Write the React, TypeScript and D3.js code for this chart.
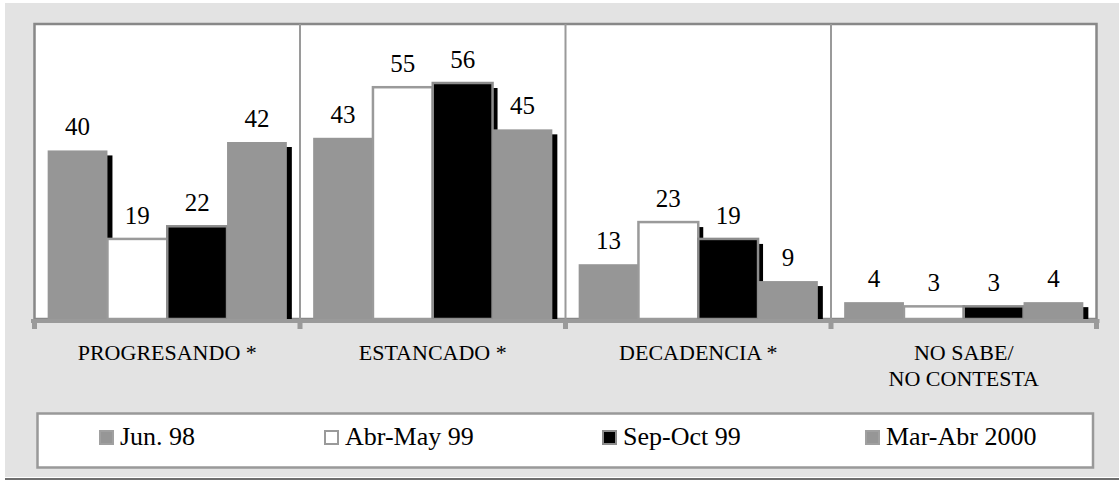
import React from 'react';
import * as d3 from 'd3';

const categories = ['PROGRESANDO *', 'ESTANCADO *', 'DECADENCIA *', 'NO SABE/\nNO CONTESTA'];
const seriesNames = ['Jun. 98', 'Abr-May 99', 'Sep-Oct 99', 'Mar-Abr 2000'];
const jun98 = [40, 43, 13, 4];
const abrMay99 = [19, 55, 23, 3];
const sepOct99 = [22, 56, 19, 3];
const marAbr2000 = [42, 45, 9, 4];
const seriesValues = [jun98, abrMay99, sepOct99, marAbr2000];

const fills = ['#969696', '#ffffff', '#000000', '#969696'];
const strokes = ['none', '#9a9a9a', '#8c8c8c', 'none'];
// legend item left edges (layout only)
const legendX = [99, 324, 602, 865];

const W = 1119, H = 481;
const plotL = 34.5, plotR = 1096.5, plotT = 24, base = 319;

const App = () => {
  const x0 = d3.scaleBand().domain(categories).range([plotL, plotR]);
  const x1 = d3.scaleBand().domain(seriesNames).range([0, x0.bandwidth()]).paddingInner(0).paddingOuter(0.22);
  const y = d3.scaleLinear().domain([0, 70]).range([base, plotT]);
  const bw = x1.bandwidth();
  const edges = categories.map(c => x0(c)).concat([plotR]);

  return (
    <svg width={W} height={H} style={{ position: 'absolute', left: 0, top: 0 }}>
      {/* page background */}
      <rect x={0} y={0} width={W} height={H} fill="#fff" />
      <rect x={5} y={3} width={W - 5} height={474} fill="#e3e3e3" />
      <rect x={5} y={478} width={W - 5} height={2} fill="#6e6e6e" />

      {/* plot area */}
      <rect x={plotL} y={plotT} width={plotR - plotL} height={base - plotT}
        fill="#fff" stroke="#888" strokeWidth={2.5} />
      {categories.slice(1).map(c => (
        <line key={c} x1={x0(c)} x2={x0(c)} y1={plotT} y2={base} stroke="#9a9a9a" strokeWidth={2} />
      ))}

      {/* bars with drop shadow */}
      {categories.map((c, ci) => (
        <g key={c} transform={`translate(${x0(c)},0)`}>
          {seriesNames.map((s, si) => {
            const top = y(seriesValues[si][ci]);
            return (
              <g key={s}>
                <rect x={x1(s) + 5} y={top + 5} width={bw} height={Math.max(0, base - top - 5)} fill="#000" />
                <rect x={x1(s)} y={top} width={bw} height={base - top}
                  fill={fills[si]} stroke={strokes[si]} strokeWidth={2.5} />
              </g>
            );
          })}
        </g>
      ))}

      {/* value labels */}
      {categories.map((c, ci) => seriesNames.map((s, si) => (
        <text key={c + s} x={x0(c) + x1(s) + bw / 2} y={y(seriesValues[si][ci]) - 15} textAnchor="middle"
          style={{ fontFamily: 'Liberation Serif', fontSize: '25px' }}>
          {seriesValues[si][ci]}
        </text>
      )))}

      {/* axis line and ticks */}
      <rect x={31} y={base} width={plotR - 31 + 3} height={4} fill="#9a9a9a" />
      {edges.map((ex, i) => (
        <rect key={i} x={ex - 2.5} y={base} width={5} height={10} fill="#9a9a9a" />
      ))}

      {/* category labels */}
      {categories.map(c => c.split('\n').map((line, li) => (
        <text key={c + li} x={x0(c) + x0.bandwidth() / 2} y={360 + li * 26} textAnchor="middle"
          style={{ fontFamily: 'Liberation Serif', fontSize: '22px' }}>
          {line}
        </text>
      )))}

      {/* legend */}
      <rect x={37.5} y={413.5} width={1055.5} height={54} fill="#fff" stroke="#999" strokeWidth={2.5} />
      {seriesNames.map((s, si) => (
        <rect key={s} x={legendX[si] + 1} y={431} width={13} height={13} fill={fills[si]}
          stroke={strokes[si] === 'none' ? '#a0a0a0' : strokes[si]} strokeWidth={2} />
      ))}
      {seriesNames.map((s, si) => (
        <text key={s} x={legendX[si] + 21} y={445} style={{ fontFamily: 'Liberation Serif', fontSize: '26px' }}>
          {s}
        </text>
      ))}
    </svg>
  );
};

export default App;
